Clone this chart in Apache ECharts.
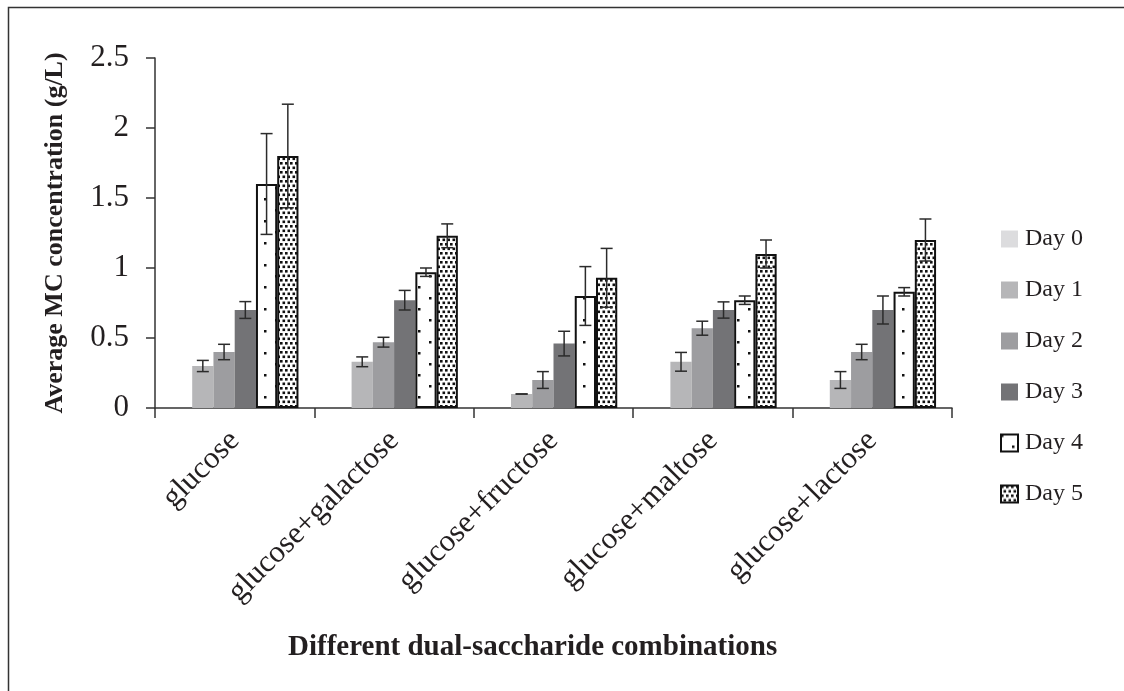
<!DOCTYPE html>
<html>
<head>
<meta charset="utf-8">
<script src="https://cdn.jsdelivr.net/npm/echarts@6/dist/echarts.min.js"></script>
<style>
  html, body { margin: 0; padding: 0; background: #fff; }
  #mychart { width: 1124px; height: 691px; }
</style>
</head>
<body>
<div id="mychart"></div>
<script>
// data
const categories = ['glucose', 'glucose+galactose', 'glucose+fructose', 'glucose+maltose', 'glucose+lactose'];
const dayNames = ['Day 0', 'Day 1', 'Day 2', 'Day 3', 'Day 4', 'Day 5'];
const day0 = [0, 0, 0, 0, 0];
const day1 = [0.30, 0.33, 0.10, 0.33, 0.20];
const day2 = [0.40, 0.47, 0.20, 0.57, 0.40];
const day3 = [0.70, 0.77, 0.46, 0.70, 0.70];
const day4 = [1.60, 0.97, 0.80, 0.77, 0.83];
const day5 = [1.80, 1.23, 0.93, 1.10, 1.20];
const err1 = [0.04, 0.035, 0.00, 0.067, 0.06];
const err2 = [0.055, 0.035, 0.06, 0.05, 0.055];
const err3 = [0.06, 0.07, 0.088, 0.058, 0.10];
const err4 = [0.36, 0.03, 0.21, 0.03, 0.03];
const err5 = [0.37, 0.085, 0.21, 0.10, 0.15];
const yTicks = [0, 0.5, 1, 1.5, 2, 2.5];

const means = [day0, day1, day2, day3, day4, day5];
const errs = [null, err1, err2, err3, err4, err5];

const FONT = "'Liberation Serif', 'Times New Roman', serif";
const TEXT = '#231f20';
const GAP = 0.2; // barCategoryGap

// dot patterns for day 4 / day 5
function makePattern (w, h, dots, size) {
  const c = document.createElement('canvas');
  c.width = w;
  c.height = h;
  const ctx = c.getContext('2d');
  ctx.fillStyle = '#fff';
  ctx.fillRect(0, 0, w, h);
  ctx.fillStyle = '#111';
  dots.forEach(d => ctx.fillRect(d[0], d[1], size, size));
  return { image: c, repeat: 'repeat' };
}
const sparse = makePattern(22, 22, [[0, 0], [11, 11]], 2.5);
const dense = makePattern(10, 9, [[0, 0], [5, 0], [2.5, 4.5], [7.5, 4.5]], 2.6);

const fills = [
  { color: '#dcdcde' },
  { color: '#b6b6b8' },
  { color: '#9d9da0' },
  { color: '#737376' },
  { color: sparse, borderColor: '#111', borderWidth: 2 },
  { color: dense, borderColor: '#111', borderWidth: 2 }
];

function errorRender (day) {
  return function (params, api) {
    const i = api.value(0);
    const lo = api.coord([i, api.value(1)]);
    const hi = api.coord([i, api.value(2)]);
    const band = api.size([1, 0])[0];
    const bw = band * (1 - GAP) / 6;
    const x = lo[0] - band * (1 - GAP) / 2 + (day + 0.5) * bw;
    const cap = 6;
    const st = { stroke: '#2b2b2b', lineWidth: 1.5 };
    return {
      type: 'group',
      children: [
        { type: 'line', shape: { x1: x, y1: hi[1], x2: x, y2: lo[1] }, style: st },
        { type: 'line', shape: { x1: x - cap, y1: hi[1], x2: x + cap, y2: hi[1] }, style: st },
        { type: 'line', shape: { x1: x - cap, y1: lo[1], x2: x + cap, y2: lo[1] }, style: st }
      ]
    };
  };
}

const series = [];
means.forEach((m, d) => {
  series.push({
    name: dayNames[d],
    type: 'bar',
    barGap: '0%',
    barCategoryGap: (GAP * 100) + '%',
    itemStyle: fills[d],
    data: m
  });
});
errs.forEach((e, d) => {
  if (!e) return;
  series.push({
    name: 'err' + d,
    type: 'custom',
    z: 5,
    renderItem: errorRender(d),
    data: e.map((v, i) => [i, means[d][i] - v, means[d][i] + v])
  });
});

const option = {
  animation: false,
  backgroundColor: '#fff',
  graphic: [{
    type: 'rect',
    shape: { x: 8.5, y: 7.5, width: 1300, height: 900 },
    style: { fill: 'none', stroke: '#333', lineWidth: 1.5 }
  }],
  title: {
    text: 'Different dual-saccharide combinations',
    left: 283,
    top: 628,
    textStyle: { fontFamily: FONT, fontWeight: 'bold', fontSize: 29, color: TEXT }
  },
  legend: {
    data: dayNames,
    orient: 'vertical',
    left: 995,
    top: 222,
    icon: 'rect',
    itemWidth: 17,
    itemHeight: 17,
    itemGap: 27,
    textStyle: { fontFamily: FONT, fontSize: 24, color: TEXT, lineHeight: 24, padding: [0, 0, 0, 2] }
  },
  grid: { left: 155, right: 172, top: 58, bottom: 283 },
  xAxis: {
    type: 'category',
    data: categories,
    axisLine: { lineStyle: { color: '#333', width: 1.5 } },
    axisTick: { show: true, length: 10, lineStyle: { color: '#333', width: 1.5 } },
    axisLabel: {
      interval: 0,
      rotate: 45,
      margin: 28,
      fontFamily: FONT,
      fontSize: 31,
      color: TEXT
    }
  },
  yAxis: {
    type: 'value',
    min: yTicks[0],
    max: yTicks[yTicks.length - 1],
    interval: 0.5,
    name: 'Average MC concentration (g/L)',
    nameLocation: 'middle',
    nameGap: 87,
    nameTextStyle: { fontFamily: FONT, fontWeight: 'bold', fontSize: 26, color: TEXT },
    splitLine: { show: false },
    axisLine: { show: true, lineStyle: { color: '#333', width: 1.5 } },
    axisTick: { show: true, length: 9, lineStyle: { color: '#333', width: 1.5 } },
    axisLabel: {
      margin: 26,
      fontFamily: FONT,
      fontSize: 31,
      color: TEXT,
      formatter: v => String(v)
    }
  },
  series: series
};

const myChart = echarts.init(document.getElementById('mychart'));
myChart.setOption(option);
window.addEventListener('resize', () => {
  myChart.resize();
});
</script>
</body>
</html>
